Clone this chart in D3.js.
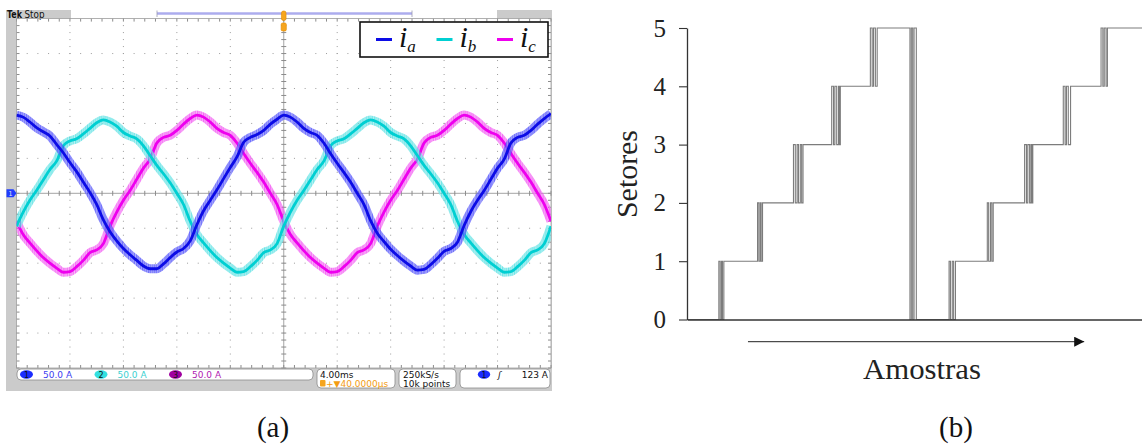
<!DOCTYPE html>
<html>
<head>
<meta charset="utf-8">
<script src="https://cdn.jsdelivr.net/npm/d3@7"></script>
<style>
  body { margin: 0; background: #fff; }
  svg { display: block; }
</style>
</head>
<body>
<div id="fig"></div>
<script>
// ---------- (a) scope capture: 50 A/div, 4 ms/div ----------
const timeMs = d3.range(-20, 20.001, 0.5);   // sample instants across the 10 divisions

const ia = [112, 109, 102, 94, 88, 82, 70, 58, 44, 31, 16, 1, -16, -38, -55, -68, -79, -88, -96, -104,
  -108, -108, -101, -92, -84, -79, -68, -45, -25, -10, 5, 21, 37, 52, 73, 80, 84, 90, 99, 106,
  112, 109, 102, 93, 87, 83, 72, 57, 43, 30, 16, 0, -16, -39, -57, -69, -80, -89, -97, -104,
  -110, -109, -102, -93, -83, -79, -70, -46, -26, -10, 4, 20, 36, 49, 72, 80, 83, 90, 99, 107, 114];

const ib = [-47, -27, -10, 4, 19, 34, 46, 68, 75, 78, 85, 93, 101, 105, 102, 96, 87, 82, 78, 68,
  54, 40, 28, 15, 0, -16, -40, -59, -71, -82, -92, -100, -107, -113, -112, -105, -96, -85, -81, -72,
  -47, -27, -10, 4, 19, 34, 46, 68, 75, 78, 85, 93, 101, 105, 102, 96, 87, 82, 78, 68,
  54, 40, 28, 15, 0, -16, -40, -59, -71, -82, -92, -100, -107, -113, -112, -105, -96, -85, -81, -72, -47];

const ic = [-40, -59, -71, -82, -92, -100, -107, -113, -112, -105, -96, -85, -81, -72, -47, -27, -10, 4, 20, 36,
  49, 72, 80, 83, 90, 99, 107, 112, 109, 102, 93, 87, 83, 72, 57, 43, 30, 16, 0, -16,
  -40, -59, -71, -82, -92, -100, -107, -113, -112, -105, -96, -85, -81, -72, -47, -27, -10, 4, 20, 36,
  49, 72, 80, 83, 90, 99, 107, 112, 109, 102, 93, 87, 83, 72, 57, 43, 30, 16, 0, -16, -40];

const phaseSubs = ["a", "b", "c"];
const phaseDark = ["#0c0ce6", "#00cfd2", "#ee00ee"];
const phaseLight = ["#6f6fff", "#7fe8ea", "#f47cf4"];
const chanBadge = ["#1a2cff", "#33e0e0", "#a000a0"];
const chanText = ["#3c3cf0", "#3cd0d0", "#b020b0"];
const chanScale = ["50.0 A", "50.0 A", "50.0 A"];

// ---------- (b) sector index against samples ----------
const sectorSamples = [0, 70, 73, 76, 78, 81, 155, 158, 161, 163, 166,
  234, 238, 242, 245, 249, 252, 255, 318, 322, 325, 329, 333, 335, 337,
  403, 407, 410, 414, 418, 490, 493, 496, 499, 504, 576, 579, 583, 586, 590,
  660, 663, 667, 670, 673, 742, 746, 749, 753, 756, 758, 760,
  827, 831, 834, 838, 843, 910, 914, 917, 921, 924, 1000];
const sectorValues = [0, 1, 0, 1, 0, 1, 2, 1, 2, 1, 2,
  3, 2, 3, 2, 3, 2, 3, 4, 3, 4, 3, 4, 3, 4,
  5, 4, 5, 4, 5, 0, 5, 0, 5, 0, 1, 0, 1, 0, 1,
  2, 1, 2, 1, 2, 3, 2, 3, 2, 3, 2, 3,
  4, 3, 4, 3, 4, 5, 4, 5, 4, 5, 5];
const sectorTicks = [0, 1, 2, 3, 4, 5];
const arrowSamples = [134, 873];

const svg = d3.select("#fig").append("svg")
  .attr("width", 1142).attr("height", 446)
  .style("background", "#fff");
const defs = svg.append("defs");

// ===== panel (a) =====
const xs = d3.scaleLinear().domain([-20, 20]).range([16.5, 551]);
const ys = d3.scaleLinear().domain([-250, 250]).range([368, 18.6]);
const [gx0, gx1] = xs.range();
const [gy1, gy0] = ys.range();

svg.append("rect").attr("x", 6).attr("y", 10).attr("width", 546).attr("height", 381).attr("fill", "#cbcbcb");
svg.append("rect").attr("x", gx0).attr("y", gy0).attr("width", gx1 - gx0).attr("height", gy1 - gy0).attr("fill", "#fff");

// top status bar
svg.append("rect").attr("x", 71).attr("y", 10).attr("width", 426).attr("height", 8.6).attr("fill", "#fff");
svg.append("line").attr("x1", 157).attr("x2", 412).attr("y1", 13.5).attr("y2", 13.5)
  .attr("stroke", "#acacee").attr("stroke-width", 2.4);
[157, 412].forEach(x => svg.append("line").attr("x1", x).attr("x2", x).attr("y1", 10.5).attr("y2", 17)
  .attr("stroke", "#9a9ab0").attr("stroke-width", 0.8));
svg.append("text").attr("x", 7).attr("y", 18).attr("font-family", "DejaVu Sans").attr("font-size", 10)
  .attr("font-weight", "bold").attr("fill", "#111")
  .attr("textLength", 15).attr("lengthAdjust", "spacingAndGlyphs").text("Tek");
svg.append("text").attr("x", 24.5).attr("y", 17.8).attr("font-family", "DejaVu Sans").attr("font-size", 10)
  .attr("fill", "#111").attr("textLength", 20).attr("lengthAdjust", "spacingAndGlyphs").text("Stop");

// graticule
const majorX = d3.range(-20, 20.001, 4);
const minorX = d3.range(-20, 20.001, 0.8);
const majorY = d3.range(-250, 250.1, 50);
const minorY = d3.range(-250, 250.1, 10);
const grid = svg.append("g");
const dots = [];
majorX.filter(v => Math.abs(v) > 1e-6 && Math.abs(v) < 19.9)
  .forEach(v => minorY.forEach(w => dots.push([xs(v), ys(w)])));
majorY.filter(v => v !== 0 && Math.abs(v) < 249)
  .forEach(v => minorX.forEach(w => dots.push([xs(w), ys(v)])));
grid.selectAll(".dot").data(dots).join("rect").attr("class", "dot")
  .attr("x", d => d[0] - 0.5).attr("y", d => d[1] - 0.5).attr("width", 1).attr("height", 1)
  .attr("fill", "#9c9c9c");
grid.append("line").attr("x1", xs(0)).attr("x2", xs(0)).attr("y1", gy0).attr("y2", gy1)
  .attr("stroke", "#a4a4a4").attr("stroke-width", 1);
grid.append("line").attr("x1", gx0).attr("x2", gx1).attr("y1", ys(0)).attr("y2", ys(0))
  .attr("stroke", "#a4a4a4").attr("stroke-width", 1);
grid.selectAll(".cty").data(minorY).join("line").attr("class", "cty")
  .attr("x1", xs(0) - 2.5).attr("x2", xs(0) + 2.5).attr("y1", d => ys(d)).attr("y2", d => ys(d))
  .attr("stroke", "#8c8c8c");
grid.selectAll(".ctx").data(minorX).join("line").attr("class", "ctx")
  .attr("y1", ys(0) - 2.5).attr("y2", ys(0) + 2.5).attr("x1", d => xs(d)).attr("x2", d => xs(d))
  .attr("stroke", "#8c8c8c");
[[gx0, 3], [gx1, -3]].forEach(([x, dx]) => grid.append("g").selectAll("line").data(minorY).join("line")
  .attr("x1", x).attr("x2", x + dx).attr("y1", d => ys(d)).attr("y2", d => ys(d)).attr("stroke", "#8c8c8c"));
[[gy0, 3], [gy1, -3]].forEach(([y, dy]) => grid.append("g").selectAll("line").data(minorX).join("line")
  .attr("y1", y).attr("y2", y + dy).attr("x1", d => xs(d)).attr("x2", d => xs(d)).attr("stroke", "#8c8c8c"));
grid.append("rect").attr("x", gx0).attr("y", gy0).attr("width", gx1 - gx0).attr("height", gy1 - gy0)
  .attr("fill", "none").attr("stroke", "#a0a0a0").attr("stroke-width", 0.8);

// trigger markers
svg.append("rect").attr("x", xs(0) - 2.3).attr("y", 11).attr("width", 4.6).attr("height", 9.5).attr("rx", 2)
  .attr("fill", "#f6a51e").attr("stroke", "#e08a00").attr("stroke-width", 0.6);
svg.append("rect").attr("x", xs(0) - 2.6).attr("y", 23).attr("width", 5.2).attr("height", 8).attr("rx", 1.5)
  .attr("fill", "#f6a51e").attr("stroke", "#e08a00").attr("stroke-width", 0.6);
// channel 1 ground marker
svg.append("path")
  .attr("d", `M6.5,${ys(0) - 4} H13.5 L16.5,${ys(0)} L13.5,${ys(0) + 4} H6.5 Z`)
  .attr("fill", "#1f3cff");
svg.append("text").attr("x", 10.5).attr("y", ys(0) + 2.8).attr("text-anchor", "middle")
  .attr("font-family", "DejaVu Sans").attr("font-size", 7).attr("fill", "#dde").text("1");

// waveforms with switching ripple texture
defs.append("clipPath").attr("id", "scr").append("rect")
  .attr("x", gx0).attr("y", gy0).attr("width", gx1 - gx0).attr("height", gy1 - gy0);
const stripes = [[0, 1.1, 1], [1.7, 0.8, 0.55], [3.0, 1.3, 1], [4.9, 0.7, 0.6]];
phaseDark.forEach((c, k) => {
  const p = defs.append("pattern").attr("id", `rip${k}`).attr("patternUnits", "userSpaceOnUse")
    .attr("width", 6.1).attr("height", 4);
  p.append("rect").attr("width", 6.1).attr("height", 4).attr("fill", phaseLight[k]).attr("opacity", 0.35);
  stripes.forEach(([x, w, o]) => p.append("rect").attr("x", x).attr("width", w).attr("height", 4)
    .attr("fill", o > 0.9 ? phaseLight[k] : c).attr("opacity", o));
});
const series = [ia, ib, ic];
const waveLine = d3.line()
  .x((d, i) => xs(timeMs[i]))
  .y(d => ys(d))
  .curve(d3.curveMonotoneX);
const waves = svg.append("g").attr("clip-path", "url(#scr)");
waves.selectAll("g.phase").data([2, 1, 0]).join("g").attr("class", "phase")
  .each(function (k) {
    const g = d3.select(this);
    g.append("path").attr("d", waveLine(series[k])).attr("fill", "none")
      .attr("stroke", `url(#rip${k})`).attr("stroke-width", 9).attr("stroke-linejoin", "round");
    g.append("path").attr("d", waveLine(series[k])).attr("fill", "none")
      .attr("stroke", phaseDark[k]).attr("stroke-width", 2.8).attr("stroke-linejoin", "round");
  });

// legend
const lg = svg.append("g");
lg.append("rect").attr("x", 360).attr("y", 22).attr("width", 188).attr("height", 35)
  .attr("fill", "#fff").attr("stroke", "#111").attr("stroke-width", 1.6);
phaseSubs.forEach((s, k) => {
  const x0 = 376 + k * 60.5;
  lg.append("line").attr("x1", x0).attr("x2", x0 + 16).attr("y1", 39.5).attr("y2", 39.5)
    .attr("stroke", phaseDark[k]).attr("stroke-width", 3);
  const t = lg.append("text").attr("x", x0 + 23).attr("y", 47)
    .attr("font-family", "Liberation Serif").attr("font-style", "italic")
    .attr("font-size", 30).attr("fill", "#111");
  t.append("tspan").text("i");
  t.append("tspan").attr("dy", 4.5).attr("font-size", 17).text(s);
});

// bottom readouts
const ui = svg.append("g").attr("font-family", "DejaVu Sans").attr("font-size", 9);
const boxes = [[17, 313, 369, 380], [317, 395, 369, 388], [399, 456, 369, 388], [460, 550, 369, 388]];
boxes.forEach(([x0, x1, y0, y1]) => ui.append("rect").attr("x", x0).attr("y", y0)
  .attr("width", x1 - x0).attr("height", y1 - y0).attr("rx", 4)
  .attr("fill", "#fff").attr("stroke", "#8a8a8a").attr("stroke-width", 0.8));
[26.5, 101, 175.5].forEach((cx, k) => {
  ui.append("ellipse").attr("cx", cx).attr("cy", 374.5).attr("rx", 6.5).attr("ry", 4.2).attr("fill", chanBadge[k]);
  ui.append("text").attr("x", cx).attr("y", 377.6).attr("text-anchor", "middle").attr("font-size", 8)
    .attr("fill", "#111").text(k + 1);
  ui.append("text").attr("x", cx + 16.5).attr("y", 378).attr("fill", chanText[k]).text(chanScale[k]);
});
ui.append("text").attr("x", 320).attr("y", 378).attr("fill", "#111").text("4.00ms");
ui.append("rect").attr("x", 320).attr("y", 380).attr("width", 5.5).attr("height", 6.5).attr("rx", 1).attr("fill", "#f6a51e");
ui.append("text").attr("x", 326).attr("y", 387).attr("fill", "#f39c12").text("+▼40.0000µs");
ui.append("text").attr("x", 403).attr("y", 378).attr("fill", "#111").text("250kS/s");
ui.append("text").attr("x", 403).attr("y", 387).attr("fill", "#111").text("10k points");
ui.append("ellipse").attr("cx", 484).attr("cy", 374.5).attr("rx", 6.2).attr("ry", 4.2).attr("fill", chanBadge[0]);
ui.append("text").attr("x", 484).attr("y", 377.6).attr("text-anchor", "middle").attr("font-size", 8).attr("fill", "#111").text("1");
ui.append("text").attr("x", 498).attr("y", 378).attr("fill", "#111").attr("font-style", "italic").text("ʃ");
ui.append("text").attr("x", 548).attr("y", 378).attr("text-anchor", "end").attr("fill", "#111").text("123 A");

svg.append("text").attr("x", 273).attr("y", 437).attr("text-anchor", "middle")
  .attr("font-family", "Liberation Serif").attr("font-size", 29).attr("fill", "#111").text("(a)");

// ===== panel (b) =====
const xB = d3.scaleLinear().domain([0, 1000]).range([687, 1142]);
const yB = d3.scaleLinear().domain([0, 5]).range([319.5, 28]);

const stepLine = d3.line()
  .x((d, i) => xB(sectorSamples[i]))
  .y(d => yB(d))
  .curve(d3.curveStepAfter);
svg.append("path").attr("d", stepLine(sectorValues)).attr("fill", "none")
  .attr("stroke", "#7c7c7c").attr("stroke-width", 1.1);

const axY = svg.append("g").attr("transform", `translate(${xB(0)},0)`)
  .call(d3.axisLeft(yB).tickValues(sectorTicks).tickSize(8).tickSizeOuter(0).tickPadding(13)
    .tickFormat(d3.format("d")));
axY.select(".domain").attr("stroke", "#333").attr("stroke-width", 1.3);
axY.selectAll(".tick line").attr("stroke", "#333").attr("stroke-width", 1.1);
axY.selectAll("text").attr("font-family", "Liberation Serif").attr("font-size", 25).attr("fill", "#222");

const axX = svg.append("g").attr("transform", `translate(0,${yB(0)})`)
  .call(d3.axisBottom(xB).tickValues([]).tickSizeOuter(0));
axX.select(".domain").attr("stroke", "#333").attr("stroke-width", 1.3);

defs.append("marker").attr("id", "ah").attr("viewBox", "0 0 10 10").attr("refX", 10).attr("refY", 5)
  .attr("markerWidth", 10).attr("markerHeight", 10).attr("markerUnits", "userSpaceOnUse")
  .attr("orient", "auto")
  .append("path").attr("d", "M0,0 L10,5 L0,10 Z").attr("fill", "#111");
svg.append("line").attr("x1", xB(arrowSamples[0])).attr("x2", xB(arrowSamples[1]))
  .attr("y1", 341.7).attr("y2", 341.7).attr("stroke", "#222").attr("stroke-width", 1)
  .attr("marker-end", "url(#ah)");

svg.append("text").attr("x", 922).attr("y", 379).attr("text-anchor", "middle")
  .attr("font-family", "Liberation Serif").attr("font-size", 29).attr("fill", "#222")
  .attr("textLength", 118).attr("lengthAdjust", "spacingAndGlyphs").text("Amostras");
svg.append("text").attr("transform", "translate(637,174) rotate(-90)").attr("text-anchor", "middle")
  .attr("font-family", "Liberation Serif").attr("font-size", 29).attr("fill", "#222")
  .attr("textLength", 88).attr("lengthAdjust", "spacingAndGlyphs").text("Setores");
svg.append("text").attr("x", 956).attr("y", 437).attr("text-anchor", "middle")
  .attr("font-family", "Liberation Serif").attr("font-size", 29).attr("fill", "#111").text("(b)");
</script>
</body>
</html>
